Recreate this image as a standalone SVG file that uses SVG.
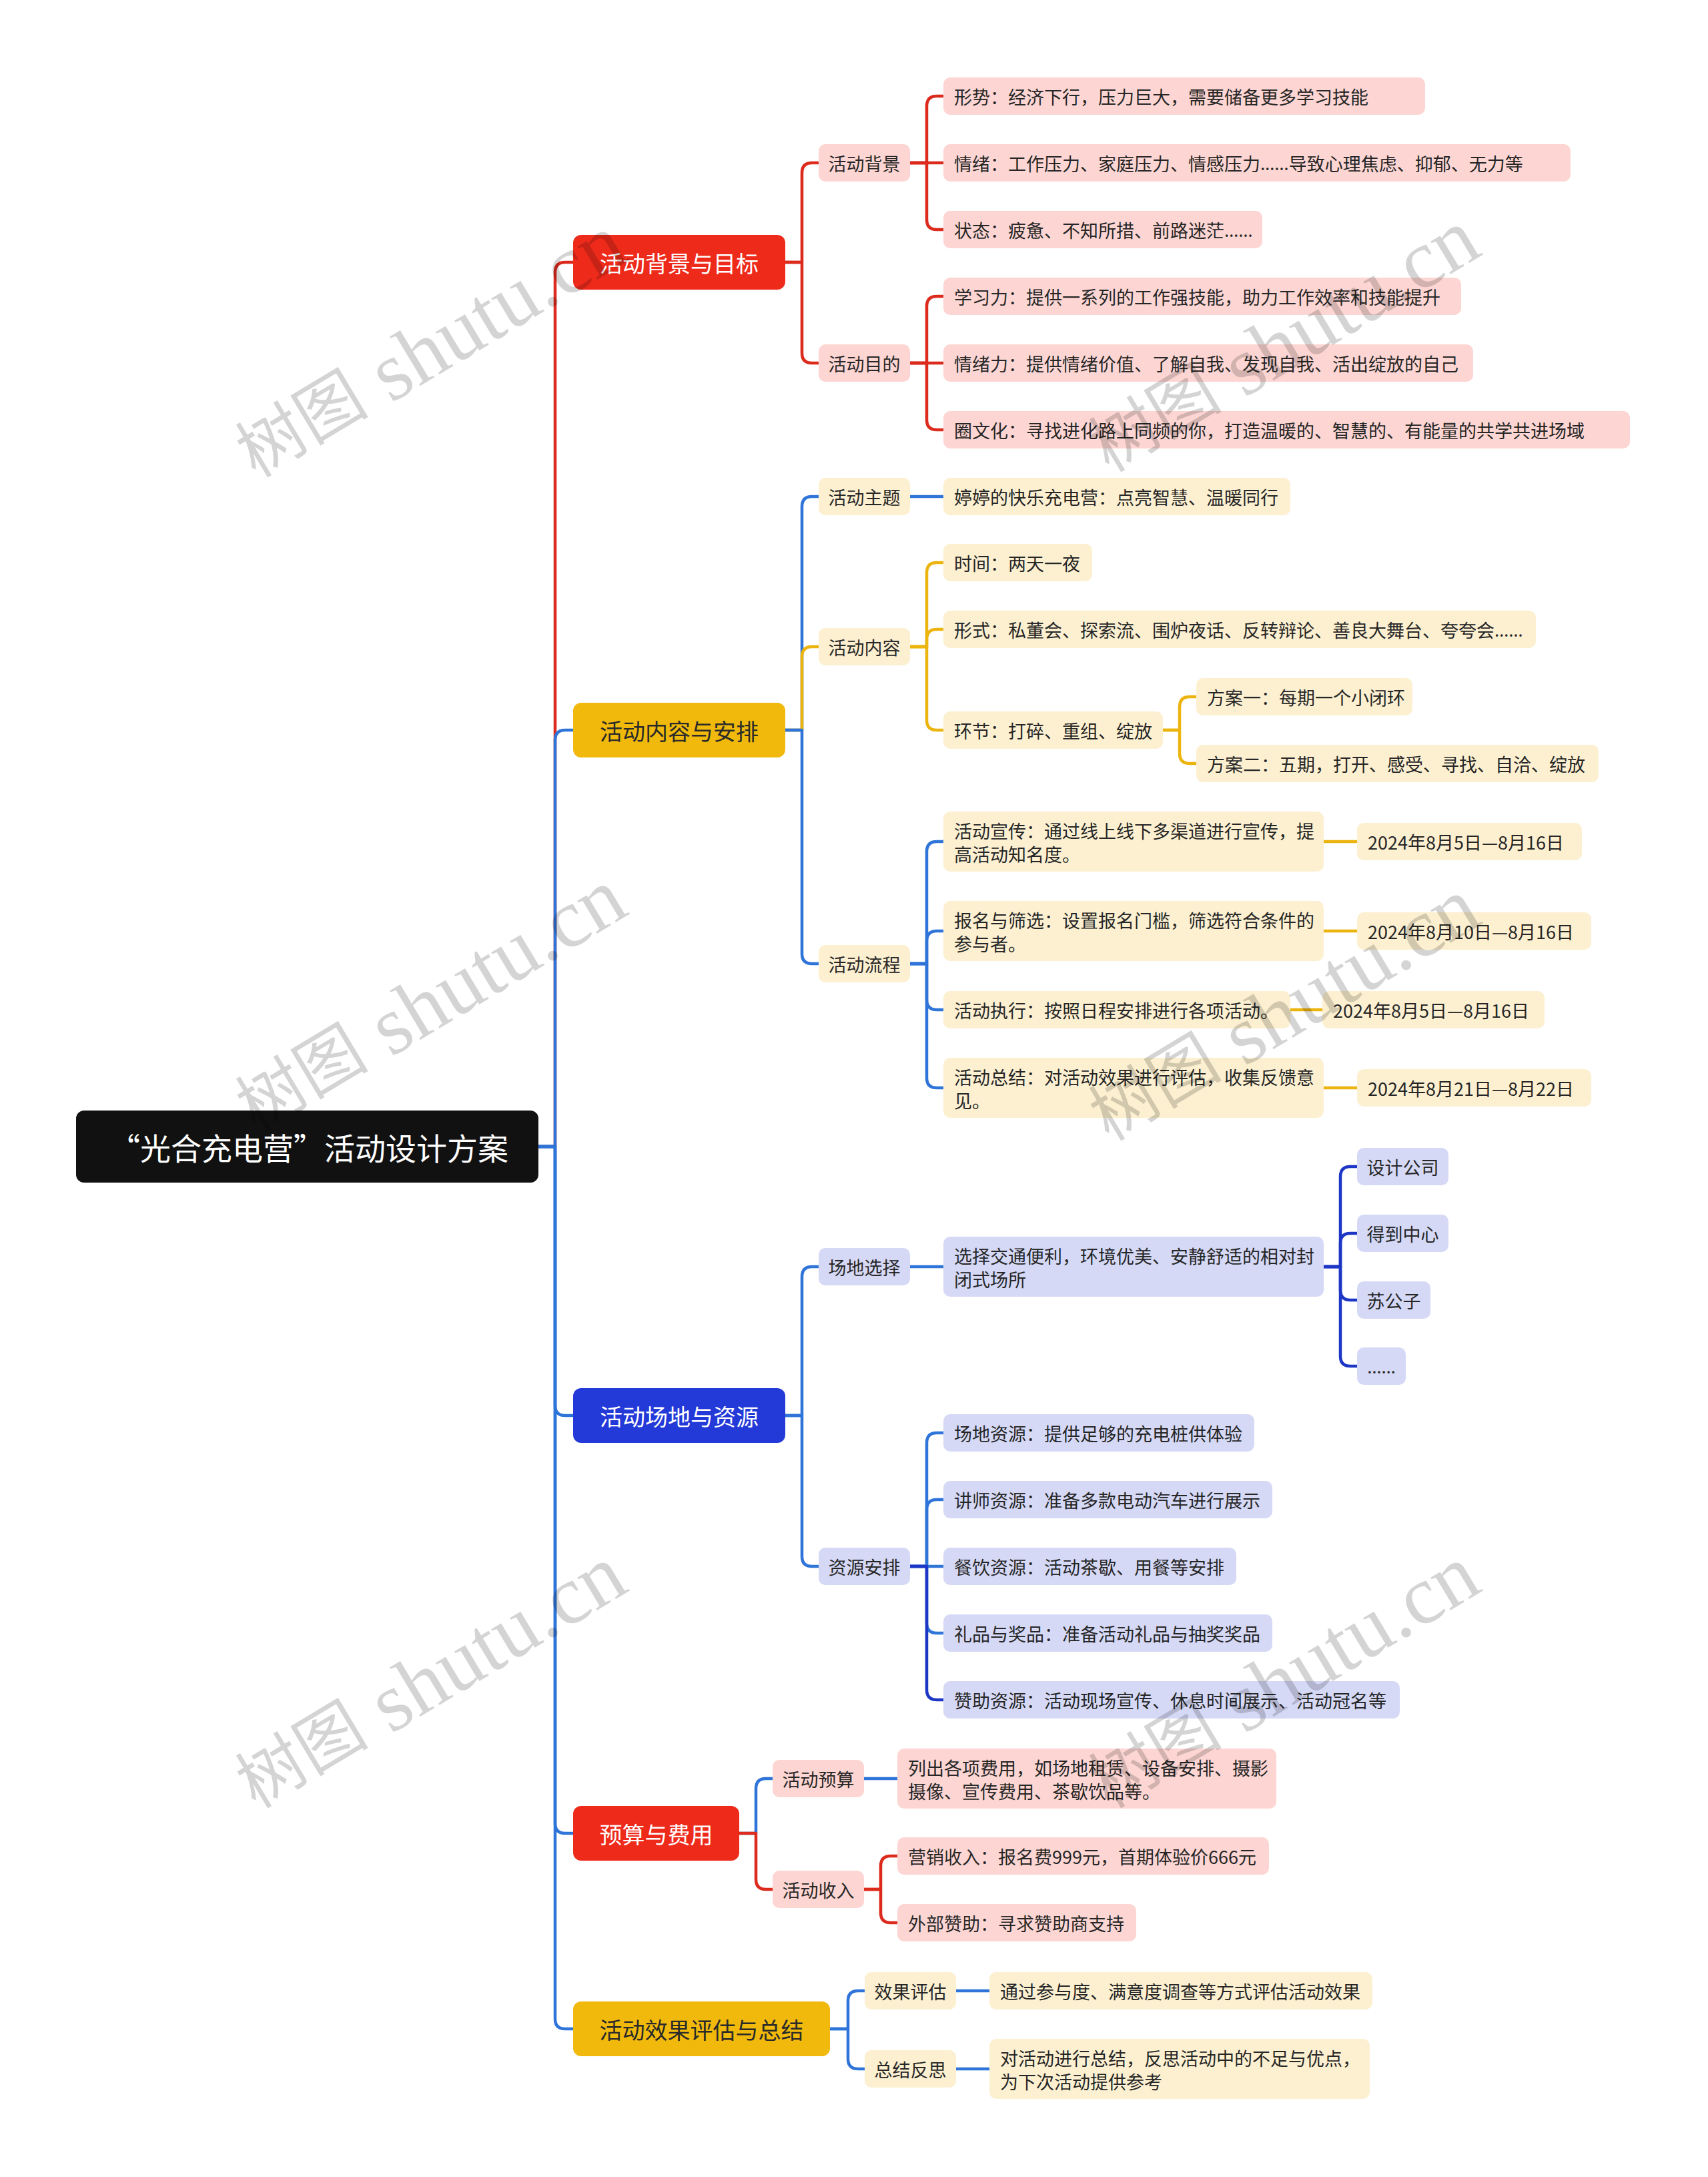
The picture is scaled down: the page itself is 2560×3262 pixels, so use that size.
<svg xmlns="http://www.w3.org/2000/svg" width="2560" height="3262" viewBox="0 0 2560 3262">
<style>
.c{fill:none;stroke-width:4.5;stroke-linecap:round;stroke-linejoin:round}
.cr{stroke:#DC2A1D}.cb{stroke:#2F74D8}.cd{stroke:#1E36C6}.cy{stroke:#ECB40F}
text{font-family:"Noto Sans CJK SC","Noto Sans",sans-serif;dominant-baseline:central}
.t{font-size:27px;fill:#262626}
.m{text-anchor:middle}
.el{font-family:"Noto Sans","Liberation Sans",sans-serif}
.l1{font-size:34px;text-anchor:middle}
.w{fill:#ffffff}.k{fill:#2a2a2a}
.pr{fill:#FDD6D3}.py{fill:#FCF0D1}.pb{fill:#D5D9F6}
.r1{fill:#EE2A1B}.y1{fill:#F0B90C}.b1{fill:#2339D8}
.wm{font-family:"Liberation Serif","Noto Sans CJK SC",serif;fill:#000;fill-opacity:0.17;text-anchor:middle}
</style>
<rect width="2560" height="3262" fill="#ffffff"/>
<g id="connectors">
<path class="c cr" d="M807,1718 H832 V408 Q832,393 847,393 H859"/>
<path class="c cb" d="M807,1718 H832 V1109 Q832,1094 847,1094 H859"/>
<path class="c cb" d="M807,1718 H832 V2106 Q832,2121 847,2121 H859"/>
<path class="c cb" d="M807,1718 H832 V2732 Q832,2747 847,2747 H859"/>
<path class="c cb" d="M807,1718 H832 V3025 Q832,3040 847,3040 H859"/>
<path class="c cr" d="M1177,393 H1202 V259 Q1202,244 1217,244 H1227"/>
<path class="c cr" d="M1177,393 H1202 V529 Q1202,544 1217,544 H1227"/>
<path class="c cr" d="M1364,244 H1389 V159 Q1389,144 1404,144 H1414"/>
<path class="c cr" d="M1364,244 H1414"/>
<path class="c cr" d="M1364,244 H1389 V329 Q1389,344 1404,344 H1414"/>
<path class="c cr" d="M1364,544 H1389 V459 Q1389,444 1404,444 H1414"/>
<path class="c cr" d="M1364,544 H1414"/>
<path class="c cr" d="M1364,544 H1389 V629 Q1389,644 1404,644 H1414"/>
<path class="c cb" d="M1177,1094 H1202 V759 Q1202,744 1217,744 H1227"/>
<path class="c cy" d="M1177,1094 H1202 V984 Q1202,969 1217,969 H1227"/>
<path class="c cb" d="M1177,1094 H1202 V1429 Q1202,1444 1217,1444 H1227"/>
<path class="c cb" d="M1364,744 H1414"/>
<path class="c cy" d="M1364,969 H1389 V858 Q1389,843 1404,843 H1414"/>
<path class="c cy" d="M1364,969 H1389 V958 Q1389,943 1404,943 H1414"/>
<path class="c cy" d="M1364,969 H1389 V1079 Q1389,1094 1404,1094 H1414"/>
<path class="c cy" d="M1743,1094 H1768 V1059 Q1768,1044 1783,1044 H1793"/>
<path class="c cy" d="M1743,1094 H1768 V1129 Q1768,1144 1783,1144 H1793"/>
<path class="c cb" d="M1364,1444 H1389 V1276 Q1389,1261 1404,1261 H1414"/>
<path class="c cb" d="M1364,1444 H1389 V1410 Q1389,1395 1404,1395 H1414"/>
<path class="c cb" d="M1364,1444 H1389 V1498 Q1389,1513 1404,1513 H1414"/>
<path class="c cb" d="M1364,1444 H1389 V1615 Q1389,1630 1404,1630 H1414"/>
<path class="c cy" d="M1984,1261 H2034"/>
<path class="c cy" d="M1984,1395 H2034"/>
<path class="c cy" d="M1934,1513 H1982"/>
<path class="c cy" d="M1984,1630 H2034"/>
<path class="c cb" d="M1177,2121 H1202 V1913 Q1202,1898 1217,1898 H1227"/>
<path class="c cb" d="M1177,2121 H1202 V2332 Q1202,2347 1217,2347 H1227"/>
<path class="c cb" d="M1364,1898 H1414"/>
<path class="c cd" d="M1984,1898 H2009 V1763 Q2009,1748 2024,1748 H2034"/>
<path class="c cd" d="M1984,1898 H2009 V1863 Q2009,1848 2024,1848 H2034"/>
<path class="c cd" d="M1984,1898 H2009 V1933 Q2009,1948 2024,1948 H2034"/>
<path class="c cd" d="M1984,1898 H2009 V2032 Q2009,2047 2024,2047 H2034"/>
<path class="c cb" d="M1364,2347 H1389 V2162 Q1389,2147 1404,2147 H1414"/>
<path class="c cb" d="M1364,2347 H1389 V2262 Q1389,2247 1404,2247 H1414"/>
<path class="c cb" d="M1364,2347 H1414"/>
<path class="c cb" d="M1364,2347 H1389 V2432 Q1389,2447 1404,2447 H1414"/>
<path class="c cd" d="M1364,2347 H1389 V2532 Q1389,2547 1404,2547 H1414"/>
<path class="c cb" d="M1108,2747 H1133 V2680 Q1133,2665 1148,2665 H1158"/>
<path class="c cr" d="M1108,2747 H1133 V2816 Q1133,2831 1148,2831 H1158"/>
<path class="c cb" d="M1295,2665 H1345"/>
<path class="c cr" d="M1295,2831 H1320 V2796 Q1320,2781 1335,2781 H1345"/>
<path class="c cr" d="M1295,2831 H1320 V2866 Q1320,2881 1335,2881 H1345"/>
<path class="c cb" d="M1244,3040 H1271 V2998 Q1271,2983 1286,2983 H1296"/>
<path class="c cb" d="M1244,3040 H1271 V3085 Q1271,3100 1286,3100 H1296"/>
<path class="c cb" d="M1433,2983 H1483"/>
<path class="c cb" d="M1433,3100 H1483"/>
</g>
<g id="root"><rect x="114" y="1664" width="693" height="108" rx="12" fill="#111111"/><text x="463" y="1718" font-size="46" class="w m">“光合充电营”活动设计方案</text></g>
<g id="n-a"><rect x="859" y="352" width="318" height="82" rx="12" class="r1"/><text x="1018" y="393" class="l1 w">活动背景与目标</text></g>
<g id="n-b"><rect x="859" y="1053" width="318" height="82" rx="12" class="y1"/><text x="1018" y="1094" class="l1 k">活动内容与安排</text></g>
<g id="n-c"><rect x="859" y="2080" width="318" height="82" rx="12" class="b1"/><text x="1018" y="2121" class="l1 w">活动场地与资源</text></g>
<g id="n-d"><rect x="859" y="2706" width="249" height="82" rx="12" class="r1"/><text x="983.5" y="2747" class="l1 w">预算与费用</text></g>
<g id="n-e"><rect x="859" y="2999" width="385" height="82" rx="12" class="y1"/><text x="1051.5" y="3040" class="l1 k">活动效果评估与总结</text></g>

<g id="n-a1"><rect x="1227" y="216" width="137" height="56" rx="10" class="pr"/><text x="1295.5" y="244" class="t m">活动背景</text></g>
<g id="n-a2"><rect x="1227" y="516" width="137" height="56" rx="10" class="pr"/><text x="1295.5" y="544" class="t m">活动目的</text></g>
<g id="n-a11"><rect x="1414" y="116" width="722" height="56" rx="10" class="pr"/><text x="1430" y="144" class="t">形势：经济下行，压力巨大，需要储备更多学习技能</text></g>
<g id="n-a12"><rect x="1414" y="216" width="940" height="56" rx="10" class="pr"/><text x="1430" y="244" class="t">情绪：工作压力、家庭压力、情感压力<tspan class="el">……</tspan>导致心理焦虑、抑郁、无力等</text></g>
<g id="n-a13"><rect x="1414" y="316" width="478" height="56" rx="10" class="pr"/><text x="1430" y="344" class="t">状态：疲惫、不知所措、前路迷茫<tspan class="el">……</tspan></text></g>
<g id="n-a21"><rect x="1414" y="416" width="776" height="56" rx="10" class="pr"/><text x="1430" y="444" class="t">学习力：提供一系列的工作强技能，助力工作效率和技能提升</text></g>
<g id="n-a22"><rect x="1414" y="516" width="794" height="56" rx="10" class="pr"/><text x="1430" y="544" class="t">情绪力：提供情绪价值、了解自我、发现自我、活出绽放的自己</text></g>
<g id="n-a23"><rect x="1414" y="616" width="1029" height="56" rx="10" class="pr"/><text x="1430" y="644" class="t">圈文化：寻找进化路上同频的你，打造温暖的、智慧的、有能量的共学共进场域</text></g>

<g id="n-b1"><rect x="1227" y="716" width="137" height="56" rx="10" class="py"/><text x="1295.5" y="744" class="t m">活动主题</text></g>
<g id="n-b11"><rect x="1414" y="716" width="520" height="56" rx="10" class="py"/><text x="1430" y="744" class="t">婷婷的快乐充电营：点亮智慧、温暖同行</text></g>
<g id="n-b2"><rect x="1227" y="941" width="137" height="56" rx="10" class="py"/><text x="1295.5" y="969" class="t m">活动内容</text></g>
<g id="n-b21"><rect x="1414" y="815" width="223" height="56" rx="10" class="py"/><text x="1430" y="843" class="t">时间：两天一夜</text></g>
<g id="n-b22"><rect x="1414" y="915" width="888" height="56" rx="10" class="py"/><text x="1430" y="943" class="t">形式：私董会、探索流、围炉夜话、反转辩论、善良大舞台、夸夸会<tspan class="el">……</tspan></text></g>
<g id="n-b23"><rect x="1414" y="1066" width="329" height="56" rx="10" class="py"/><text x="1430" y="1094" class="t">环节：打碎、重组、绽放</text></g>
<g id="n-b231"><rect x="1793" y="1016" width="324" height="56" rx="10" class="py"/><text x="1809" y="1044" class="t">方案一：每期一个小闭环</text></g>
<g id="n-b232"><rect x="1793" y="1116" width="603" height="56" rx="10" class="py"/><text x="1809" y="1144" class="t">方案二：五期，打开、感受、寻找、自洽、绽放</text></g>
<g id="n-b3"><rect x="1227" y="1416" width="137" height="56" rx="10" class="py"/><text x="1295.5" y="1444" class="t m">活动流程</text></g>
<g id="n-b31"><rect x="1414" y="1216" width="570" height="90" rx="10" class="py"/><text x="1430" y="1244" class="t">活动宣传：通过线上线下多渠道进行宣传，提</text><text x="1430" y="1279" class="t">高活动知名度。</text></g>
<g id="n-b311"><rect x="2034" y="1233" width="337" height="56" rx="10" class="py"/><text x="2050" y="1261" class="t">2024年8月5日—8月16日</text></g>
<g id="n-b32"><rect x="1414" y="1350" width="570" height="90" rx="10" class="py"/><text x="1430" y="1378" class="t">报名与筛选：设置报名门槛，筛选符合条件的</text><text x="1430" y="1413" class="t">参与者。</text></g>
<g id="n-b321"><rect x="2034" y="1367" width="351" height="56" rx="10" class="py"/><text x="2050" y="1395" class="t">2024年8月10日—8月16日</text></g>
<g id="n-b33"><rect x="1414" y="1485" width="520" height="56" rx="10" class="py"/><text x="1430" y="1513" class="t">活动执行：按照日程安排进行各项活动。</text></g>
<g id="n-b331"><rect x="1982" y="1485" width="333" height="56" rx="10" class="py"/><text x="1998" y="1513" class="t">2024年8月5日—8月16日</text></g>
<g id="n-b34"><rect x="1414" y="1585" width="570" height="90" rx="10" class="py"/><text x="1430" y="1613" class="t">活动总结：对活动效果进行评估，收集反馈意</text><text x="1430" y="1648" class="t">见。</text></g>
<g id="n-b341"><rect x="2034" y="1602" width="351" height="56" rx="10" class="py"/><text x="2050" y="1630" class="t">2024年8月21日—8月22日</text></g>

<g id="n-c1"><rect x="1227" y="1870" width="137" height="56" rx="10" class="pb"/><text x="1295.5" y="1898" class="t m">场地选择</text></g>
<g id="n-c11"><rect x="1414" y="1853" width="570" height="90" rx="10" class="pb"/><text x="1430" y="1881" class="t">选择交通便利，环境优美、安静舒适的相对封</text><text x="1430" y="1916" class="t">闭式场所</text></g>
<g id="n-c111"><rect x="2034" y="1720" width="137" height="56" rx="10" class="pb"/><text x="2102.5" y="1748" class="t m">设计公司</text></g>
<g id="n-c112"><rect x="2034" y="1820" width="137" height="56" rx="10" class="pb"/><text x="2102.5" y="1848" class="t m">得到中心</text></g>
<g id="n-c113"><rect x="2034" y="1920" width="110" height="56" rx="10" class="pb"/><text x="2089" y="1948" class="t m">苏公子</text></g>
<g id="n-c114"><rect x="2034" y="2019" width="73" height="56" rx="10" class="pb"/><text x="2070.5" y="2047" class="t m el">……</text></g>
<g id="n-c2"><rect x="1227" y="2319" width="137" height="56" rx="10" class="pb"/><text x="1295.5" y="2347" class="t m">资源安排</text></g>
<g id="n-c21"><rect x="1414" y="2119" width="466" height="56" rx="10" class="pb"/><text x="1430" y="2147" class="t">场地资源：提供足够的充电桩供体验</text></g>
<g id="n-c22"><rect x="1414" y="2219" width="493" height="56" rx="10" class="pb"/><text x="1430" y="2247" class="t">讲师资源：准备多款电动汽车进行展示</text></g>
<g id="n-c23"><rect x="1414" y="2319" width="439" height="56" rx="10" class="pb"/><text x="1430" y="2347" class="t">餐饮资源：活动茶歇、用餐等安排</text></g>
<g id="n-c24"><rect x="1414" y="2419" width="493" height="56" rx="10" class="pb"/><text x="1430" y="2447" class="t">礼品与奖品：准备活动礼品与抽奖奖品</text></g>
<g id="n-c25"><rect x="1414" y="2519" width="684" height="56" rx="10" class="pb"/><text x="1430" y="2547" class="t">赞助资源：活动现场宣传、休息时间展示、活动冠名等</text></g>

<g id="n-d1"><rect x="1158" y="2637" width="137" height="56" rx="10" class="pr"/><text x="1226.5" y="2665" class="t m">活动预算</text></g>
<g id="n-d11"><rect x="1345" y="2620" width="568" height="90" rx="10" class="pr"/><text x="1361" y="2648" class="t">列出各项费用，如场地租赁、设备安排、摄影</text><text x="1361" y="2683" class="t">摄像、宣传费用、茶歇饮品等。</text></g>
<g id="n-d2"><rect x="1158" y="2803" width="137" height="56" rx="10" class="pr"/><text x="1226.5" y="2831" class="t m">活动收入</text></g>
<g id="n-d21"><rect x="1345" y="2753" width="557" height="56" rx="10" class="pr"/><text x="1361" y="2781" class="t">营销收入：报名费999元，首期体验价666元</text></g>
<g id="n-d22"><rect x="1345" y="2853" width="358" height="56" rx="10" class="pr"/><text x="1361" y="2881" class="t">外部赞助：寻求赞助商支持</text></g>

<g id="n-e1"><rect x="1296" y="2955" width="137" height="56" rx="10" class="py"/><text x="1364.5" y="2983" class="t m">效果评估</text></g>
<g id="n-e11"><rect x="1483" y="2955" width="574" height="56" rx="10" class="py"/><text x="1499" y="2983" class="t">通过参与度、满意度调查等方式评估活动效果</text></g>
<g id="n-e2"><rect x="1296" y="3072" width="137" height="56" rx="10" class="py"/><text x="1364.5" y="3100" class="t m">总结反思</text></g>
<g id="n-e21"><rect x="1483" y="3055" width="570" height="90" rx="10" class="py"/><text x="1499" y="3083" class="t">对活动进行总结，反思活动中的不足与优点，</text><text x="1499" y="3118" class="t">为下次活动提供参考</text></g>

<g id="watermarks">
<text class="wm" transform="translate(645,520) rotate(-31)"><tspan font-size="100">树图</tspan><tspan font-size="125"> shutu.cn</tspan></text>
<text class="wm" transform="translate(645,1500) rotate(-31)"><tspan font-size="100">树图</tspan><tspan font-size="125"> shutu.cn</tspan></text>
<text class="wm" transform="translate(645,2514) rotate(-31)"><tspan font-size="100">树图</tspan><tspan font-size="125"> shutu.cn</tspan></text>
<text class="wm" transform="translate(1924,512) rotate(-31)"><tspan font-size="100">树图</tspan><tspan font-size="125"> shutu.cn</tspan></text>
<text class="wm" transform="translate(1924,1514) rotate(-31)"><tspan font-size="100">树图</tspan><tspan font-size="125"> shutu.cn</tspan></text>
<text class="wm" transform="translate(1924,2514) rotate(-31)"><tspan font-size="100">树图</tspan><tspan font-size="125"> shutu.cn</tspan></text>
</g>
</svg>
